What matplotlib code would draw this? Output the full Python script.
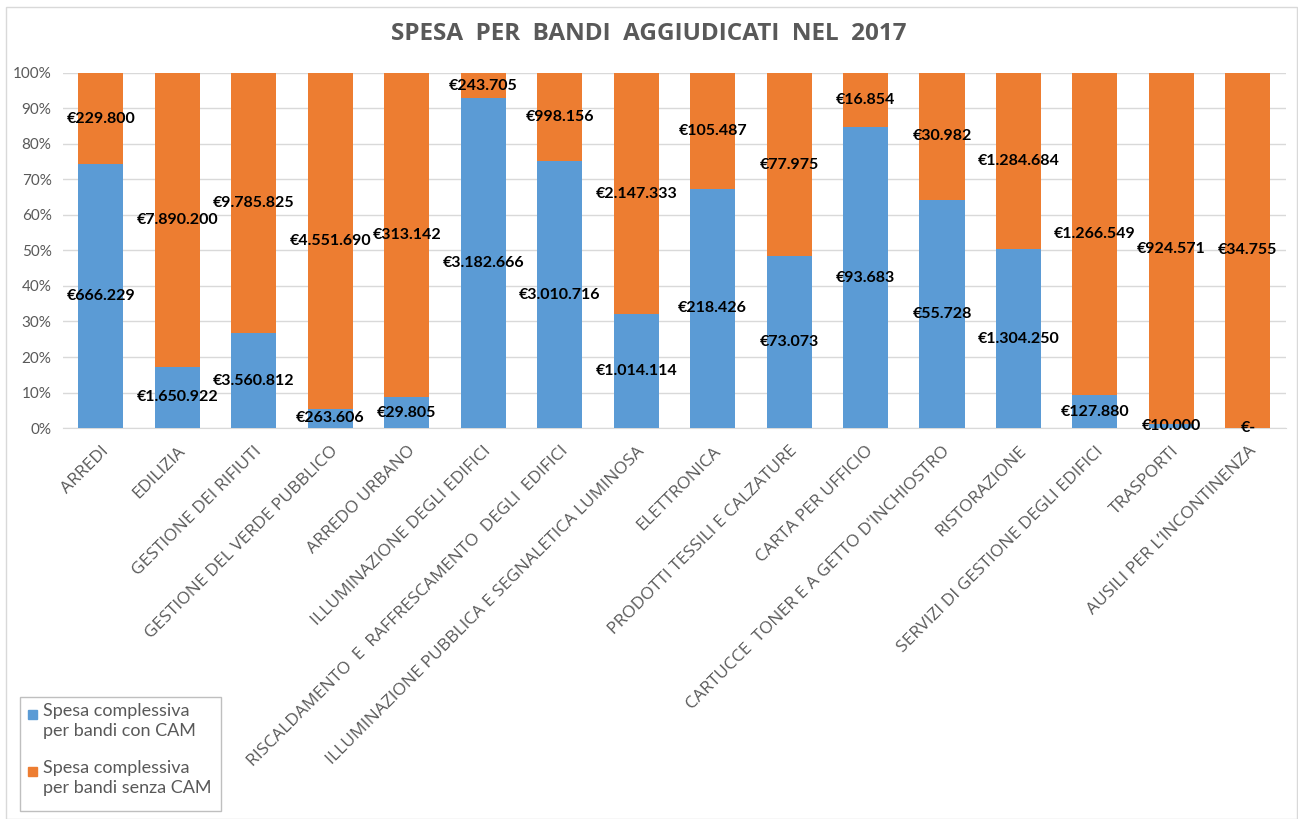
import numpy as np
import matplotlib
matplotlib.use("Agg")
import matplotlib.pyplot as plt
from matplotlib.patches import Rectangle

categories = ["ARREDI", "EDILIZIA", "GESTIONE DEI RIFIUTI", "GESTIONE DEL VERDE PUBBLICO",
              "ARREDO URBANO", "ILLUMINAZIONE DEGLI EDIFICI",
              "RISCALDAMENTO  E  RAFFRESCAMENTO  DEGLI  EDIFICI",
              "ILLUMINAZIONE PUBBLICA E SEGNALETICA LUMINOSA", "ELETTRONICA",
              "PRODOTTI TESSILI E CALZATURE", "CARTA PER UFFICIO",
              "CARTUCCE  TONER E A GETTO D'INCHIOSTRO", "RISTORAZIONE",
              "SERVIZI DI GESTIONE DEGLI EDIFICI", "TRASPORTI", "AUSILI PER L\u2019INCONTINENZA"]
con_cam = [666229, 1650922, 3560812, 263606, 29805, 3182666, 3010716, 1014114,
           218426, 73073, 93683, 55728, 1304250, 127880, 10000, 0]
senza_cam = [229800, 7890200, 9785825, 4551690, 313142, 243705, 998156, 2147333,
             105487, 77975, 16854, 30982, 1284684, 1266549, 924571, 34755]
series_names = ["Spesa complessiva\nper bandi con CAM", "Spesa complessiva\nper bandi senza CAM"]
yticks = [0, 10, 20, 30, 40, 50, 60, 70, 80, 90, 100]

blue = "#5B9BD5"
orange = "#ED7D31"
gray = "#595959"

a = np.array(con_cam, dtype=float)
b = np.array(senza_cam, dtype=float)
tot = a + b
pa = a / tot * 100
pb = b / tot * 100


def euro(v):
    if v == 0:
        return "\u20ac-"
    return "\u20ac" + f"{int(v):,}".replace(",", ".")


fig = plt.figure(figsize=(12.98, 8.19), dpi=100)
fig.patches.append(Rectangle((0.005, 0.0), 0.994, 0.991, transform=fig.transFigure,
                             fill=False, edgecolor="#d9d9d9", linewidth=1))
ax = fig.add_axes([0.0483, 0.4774, 0.9425, 0.4335])

x = np.arange(len(categories))
ax.bar(x, pa, width=0.59, color=blue, zorder=3)
ax.bar(x, pb, width=0.59, bottom=pa, color=orange, zorder=3)

for i in range(len(x)):
    ax.text(x[i], pa[i] / 2, euro(a[i]), ha="center", va="center", fontsize=11.5,
            fontweight="bold", family="Lato", zorder=5)
    ax.text(x[i], pa[i] + pb[i] / 2, euro(b[i]), ha="center", va="center", fontsize=11.5,
            fontweight="bold", family="Lato", zorder=5)

ax.set_xlim(-0.5, len(x) - 0.5)
ax.set_ylim(0, 100)
ax.set_yticks(yticks)
ax.set_yticklabels([f"{t}%" for t in yticks], fontsize=11, color=gray, family="Lato")
ax.yaxis.grid(True, color="#d9d9d9", linewidth=1, zorder=0)
for s in ["top", "left", "right"]:
    ax.spines[s].set_visible(False)
ax.spines["bottom"].set_color("#d9d9d9")
ax.tick_params(axis="both", length=0)
ax.tick_params(axis="y", pad=8)

ax.set_xticks(x)
ax.set_xticklabels(categories, rotation=45, ha="right", rotation_mode="anchor",
                   fontsize=12.5, color=gray, family="Open Sans")
ax.tick_params(axis="x", pad=11)

fig.text(0.5, 0.958, "SPESA  PER  BANDI  AGGIUDICATI  NEL  2017", ha="center", va="center",
         fontsize=17.5, fontweight="bold", color=gray, family="Open Sans")

# legend drawn by hand so the swatch sits on the first line of each entry
W, H = 1298.0, 819.0
fig.patches.append(Rectangle((20 / W, 1 - 811 / H), 201 / W, 114 / H, transform=fig.transFigure,
                             fill=False, edgecolor="#bfbfbf", linewidth=1))
for k, (name, col) in enumerate(zip(series_names, [blue, orange])):
    ytop = 703 + k * 57
    fig.patches.append(Rectangle((28 / W, 1 - (ytop + 16) / H), 9 / W, 9 / H,
                                 transform=fig.transFigure, color=col))
    fig.text(43 / W, 1 - ytop / H, name, ha="left", va="top", fontsize=13,
             color=gray, family="Lato", linespacing=1.3)

fig.savefig("out.png", dpi=100)
